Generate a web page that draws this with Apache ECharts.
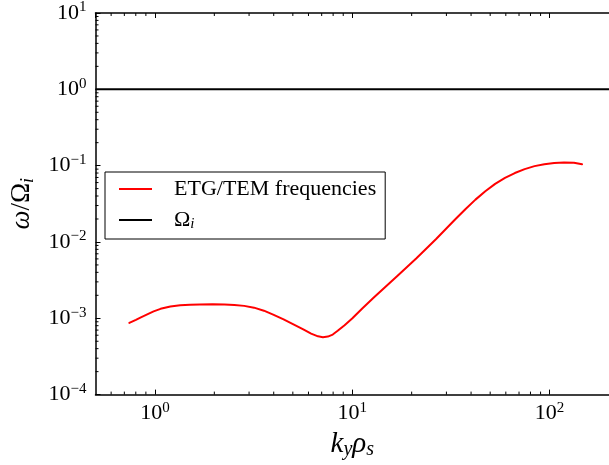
<!DOCTYPE html>
<html>
<head>
<meta charset="utf-8">
<script src="https://cdn.jsdelivr.net/npm/echarts@6/dist/echarts.min.js"></script>
<style>html,body{margin:0;padding:0;background:#fff}#c{width:609px;height:465px}</style>
</head>
<body>
<div id="c"></div>
<script>
// ---- data ----
const etgX = [0.742, 0.801, 0.849, 0.920, 0.985, 1.068, 1.198, 1.343, 1.507, 1.690, 1.963, 2.253, 2.527, 2.835, 3.180, 3.567, 4.001, 4.488, 5.035, 5.648, 6.188, 6.706, 7.102, 7.521, 7.965, 8.436, 9.144, 10.02, 11.24, 12.90, 16.81, 21.15, 26.61, 33.47, 37.54, 42.11, 47.23, 52.98, 59.42, 66.66, 74.77, 83.86, 94.06, 105.5, 118.4, 132.8, 146.1];
const etgY = [8.70e-4, 9.55e-4, 1.030e-3, 1.135e-3, 1.230e-3, 1.330e-3, 1.428e-3, 1.481e-3, 1.507e-3, 1.520e-3, 1.529e-3, 1.520e-3, 1.498e-3, 1.454e-3, 1.378e-3, 1.258e-3, 1.110e-3, 9.65e-4, 8.32e-4, 7.15e-4, 6.29e-4, 5.80e-4, 5.66e-4, 5.76e-4, 6.12e-4, 6.86e-4, 8.12e-4, 1.0e-3, 1.346e-3, 1.883e-3, 3.535e-3, 6.125e-3, 1.093e-2, 2.010e-2, 2.706e-2, 3.588e-2, 4.618e-2, 5.772e-2, 6.898e-2, 8.000e-2, 9.01e-2, 9.85e-2, 0.1046, 0.1083, 0.1100, 0.1093, 0.1046];
const omegaX = [0.5, 200];
const omegaY = [1, 1];
const xRange = [0.5, 200];
const yRange = [1e-4, 10];
const xMinorTicks = [0.6, 0.7, 0.8, 0.9, 2, 3, 4, 5, 6, 7, 8, 9, 20, 30, 40, 50, 60, 70, 80, 90];
const yMinorTicks = [2e-4, 3e-4, 4e-4, 5e-4, 6e-4, 7e-4, 8e-4, 9e-4,
  2e-3, 3e-3, 4e-3, 5e-3, 6e-3, 7e-3, 8e-3, 9e-3,
  2e-2, 3e-2, 4e-2, 5e-2, 6e-2, 7e-2, 8e-2, 9e-2,
  0.2, 0.3, 0.4, 0.5, 0.6, 0.7, 0.8, 0.9,
  2, 3, 4, 5, 6, 7, 8, 9];
const seriesNames = ['ETG/TEM frequencies', 'Omega_i'];

const FONT = "'Liberation Serif', 'DejaVu Serif', serif";
const supRich = {
  b: {fontSize: 22, fontFamily: FONT, color: '#000', lineHeight: 26},
  s: {fontSize: 15, fontFamily: FONT, color: '#000', lineHeight: 14, verticalAlign: 'top'}
};
function powLabel(v) {
  const e = Math.round(Math.log10(v));
  if (Math.abs(v - Math.pow(10, e)) / v > 1e-6) return '';
  const es = e < 0 ? '\u2212' + (-e) : String(e);
  return '{b|10}{s|' + es + '}';
}

const chart = echarts.init(document.getElementById('c'), null, {renderer: 'canvas'});

const axisLine = {show: true, lineStyle: {color: '#000', width: 1.5}};
const axisTick = {show: true, inside: true, length: 5, lineStyle: {color: '#000', width: 1}};

function minorTickRenderer(isX) {
  return function (params, api) {
    const v = api.value(isX ? 0 : 1);
    let a, b;
    if (isX) {
      a = api.coord([v, yRange[0]]);
      b = api.coord([v, yRange[1]]);
      return {type: 'group', children: [
        {type: 'line', shape: {x1: a[0], y1: a[1], x2: a[0], y2: a[1] - 3}, style: {stroke: '#000', lineWidth: 1}},
        {type: 'line', shape: {x1: b[0], y1: b[1], x2: b[0], y2: b[1] + 3}, style: {stroke: '#000', lineWidth: 1}}
      ]};
    } else {
      a = api.coord([xRange[0], v]);
      return {type: 'line', shape: {x1: a[0], y1: a[1], x2: a[0] + 3, y2: a[1]}, style: {stroke: '#000', lineWidth: 1}};
    }
  };
}

chart.setOption({
  animation: false,
  backgroundColor: '#fff',
  grid: {left: 94, top: 13, right: -7, bottom: 64, containLabel: false},
  legend: {
    data: seriesNames.map(n => ({name: n, icon: 'rect'})),
    orient: 'vertical',
    left: 105, top: 172,
    backgroundColor: '#fff',
    borderColor: '#000', borderWidth: 1, borderRadius: 0,
    padding: [6, 9, 7, 14],
    itemWidth: 33, itemHeight: 2, itemGap: 9,
    formatter: function (n) { return n === 'Omega_i' ? '{t|\u03A9}{sub|i}' : '{t|' + n + '}'; },
    textStyle: {
      fontFamily: FONT, fontSize: 22, color: '#000', padding: [0, 0, 0, 17],
      rich: {
        t: {fontFamily: FONT, fontSize: 22, color: '#000', lineHeight: 24},
        sub: {fontFamily: FONT, fontSize: 15, fontStyle: 'italic', color: '#000', lineHeight: 8, verticalAlign: 'bottom'}
      }
    }
  },
  xAxis: [{
    type: 'log', logBase: 10, min: xRange[0], max: xRange[1], position: 'bottom',
    axisLine: axisLine, axisTick: axisTick, splitLine: {show: false},
    axisLabel: {formatter: powLabel, margin: 6, showMinLabel: false, showMaxLabel: false, rich: supRich},
    name: '{i|k}{sub|y}{i|\u03C1}{sub|s}',
    nameLocation: 'middle', nameGap: 31,
    nameTextStyle: {
      rich: {
        i: {fontFamily: FONT, fontSize: 29, fontStyle: 'italic', color: '#000', lineHeight: 32},
        sub: {fontFamily: FONT, fontSize: 20, fontStyle: 'italic', color: '#000', lineHeight: 12, verticalAlign: 'bottom'}
      }
    }
  }, {
    type: 'log', logBase: 10, min: xRange[0], max: xRange[1], position: 'top',
    axisLine: axisLine, axisTick: axisTick, splitLine: {show: false}, axisLabel: {show: false}
  }],
  yAxis: [{
    type: 'log', logBase: 10, min: yRange[0], max: yRange[1],
    axisLine: axisLine, axisTick: axisTick, splitLine: {show: false},
    axisLabel: {formatter: powLabel, margin: 9, rich: supRich},
    name: '{i|\u03C9}{t|/\u03A9}{sub|i}',
    nameLocation: 'middle', nameRotate: 90, nameGap: 58,
    nameTextStyle: {
      rich: {
        i: {fontFamily: FONT, fontSize: 27, fontStyle: 'italic', color: '#000', lineHeight: 32},
        t: {fontFamily: FONT, fontSize: 27, color: '#000', lineHeight: 32},
        sub: {fontFamily: FONT, fontSize: 18, fontStyle: 'italic', color: '#000', lineHeight: 10, verticalAlign: 'bottom'}
      }
    }
  }],
  series: [{
    name: seriesNames[0], type: 'line', xAxisIndex: 0, yAxisIndex: 0,
    data: etgX.map((x, i) => [x, etgY[i]]),
    symbol: 'none', smooth: false, lineStyle: {color: '#ff0000', width: 2, join: 'round', cap: 'round'}, itemStyle: {color: '#ff0000'}, z: 3
  }, {
    name: seriesNames[1], type: 'line', xAxisIndex: 0, yAxisIndex: 0,
    data: omegaX.map((x, i) => [x, omegaY[i]]),
    symbol: 'none', lineStyle: {color: '#000', width: 2}, itemStyle: {color: '#000'}, z: 3
  }, {
    type: 'custom', xAxisIndex: 0, yAxisIndex: 0, silent: true, clip: false,
    renderItem: minorTickRenderer(true),
    data: xMinorTicks.map(v => [v, 1]), encode: {x: 0, y: 1}, z: 4
  }, {
    type: 'custom', xAxisIndex: 0, yAxisIndex: 0, silent: true, clip: false,
    renderItem: minorTickRenderer(false),
    data: yMinorTicks.map(v => [1, v]), encode: {x: 0, y: 1}, z: 4
  }]
});
</script>
</body>
</html>
